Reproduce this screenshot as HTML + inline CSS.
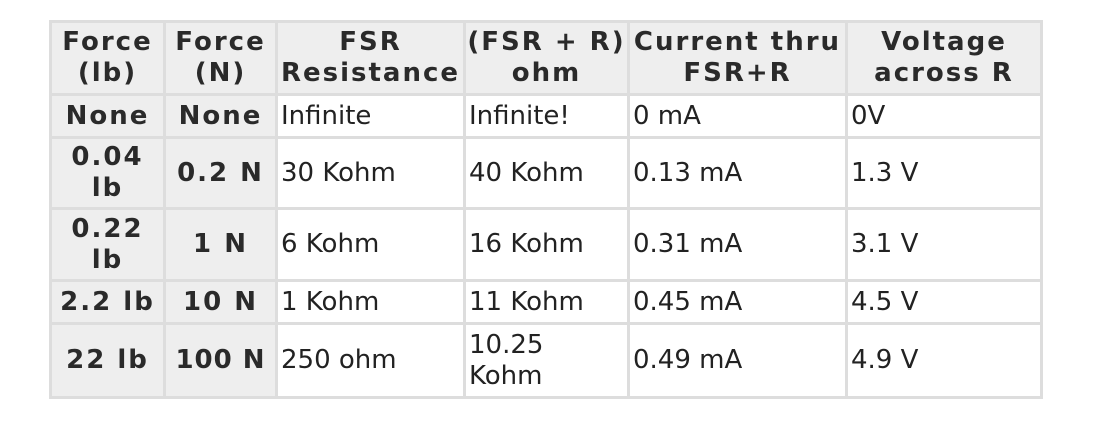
<!DOCTYPE html>
<html><head><meta charset="utf-8"><style>
html,body{margin:0;padding:0;background:#fff;width:1102px;height:448px;overflow:hidden}
table{position:absolute;left:49px;top:20px;width:994px;height:379px;border-collapse:separate;border-spacing:3px;background:#dddddd;table-layout:fixed;font-family:"DejaVu Sans","Liberation Sans",sans-serif;font-size:26px;line-height:31px;color:#222}
td,th{padding:0 3px;vertical-align:middle;overflow:hidden}
th{background:#eeeeee;font-weight:bold;text-align:center;color:#2a2a2a;letter-spacing:2px}
td{background:#fff;text-align:left;white-space:normal}
</style></head><body>
<table>
<colgroup><col style="width:111px"><col style="width:109px"><col style="width:185px"><col style="width:161px"><col style="width:215px"><col style="width:192px"></colgroup>
<tr style="height:70px">
<th>Force (lb)</th>
<th>Force (N)</th>
<th style="padding:0">FSR Resistance</th>
<th style="padding:0">(FSR + R) ohm</th>
<th>Current thru FSR+R</th>
<th>Voltage across R</th>
</tr>
<tr style="height:40px">
<th>None</th><th>None</th>
<td>Infinite</td><td>Infinite!</td><td>0 mA</td><td>0V</td></tr>
<tr style="height:68px">
<th>0.04 lb</th><th style="padding:0;white-space:nowrap">0.2 N</th>
<td>30 Kohm</td><td>40 Kohm</td><td>0.13 mA</td><td>1.3 V</td></tr>
<tr style="height:69px">
<th>0.22 lb</th><th>1 N</th>
<td>6 Kohm</td><td>16 Kohm</td><td>0.31 mA</td><td>3.1 V</td></tr>
<tr style="height:40px">
<th style="white-space:nowrap;padding:0">2.2 lb</th><th style="white-space:nowrap;padding:0">10 N</th>
<td>1 Kohm</td><td>11 Kohm</td><td>0.45 mA</td><td>4.5 V</td></tr>
<tr style="height:71px">
<th style="white-space:nowrap;padding:0">22 lb</th><th style="white-space:nowrap;padding:0;letter-spacing:1px">100 N</th>
<td>250 ohm</td><td>10.25 Kohm</td><td>0.49 mA</td><td>4.9 V</td></tr>
</table>
</body></html>
